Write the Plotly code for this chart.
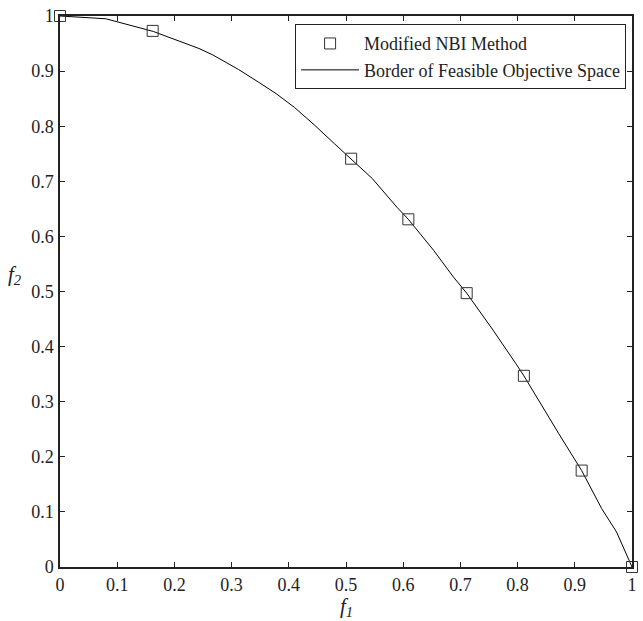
import plotly.graph_objects as go

# Border of feasible objective space (curve)
curve_f1 = [0, 0.08, 0.163, 0.243, 0.266, 0.312, 0.347, 0.378, 0.41, 0.445, 0.48, 0.509,
            0.546, 0.589, 0.609, 0.653, 0.688, 0.711, 0.757, 0.797, 0.811, 0.872, 0.912,
            0.947, 0.973, 1.0]
curve_f2 = [1.0, 0.995, 0.972, 0.941, 0.930, 0.903, 0.880, 0.859, 0.834, 0.802, 0.768, 0.741,
            0.705, 0.653, 0.631, 0.575, 0.526, 0.497, 0.430, 0.369, 0.347, 0.242, 0.175,
            0.106, 0.0635, 0.0]

# Modified NBI method points
nbi_f1 = [0.0, 0.162, 0.509, 0.609, 0.711, 0.811, 0.912, 1.0]
nbi_f2 = [1.0, 0.973, 0.741, 0.631, 0.497, 0.347, 0.175, 0.0]

tick_vals = [0, 0.1, 0.2, 0.3, 0.4, 0.5, 0.6, 0.7, 0.8, 0.9, 1]
tick_text = ["0", "0.1", "0.2", "0.3", "0.4", "0.5", "0.6", "0.7", "0.8", "0.9", "1"]

FONT = "Liberation Serif, Times New Roman, serif"

fig = go.Figure()
fig.add_trace(go.Scatter(
    x=curve_f1, y=curve_f2, mode="lines", name="Border of Feasible Objective Space",
    line=dict(color="black", width=1)))
fig.add_trace(go.Scatter(
    x=nbi_f1, y=nbi_f2, mode="markers", name="Modified NBI Method",
    marker=dict(symbol="square-open", size=11, color="#333333", line=dict(width=1, color="#333333")),
    cliponaxis=False))

axis_common = dict(
    range=[0, 1], tickvals=tick_vals, ticktext=tick_text,
    showgrid=False, zeroline=False, showline=True, linecolor="#222222", linewidth=1.5,
    mirror="ticks", ticks="inside", ticklen=5, tickcolor="#222222", tickwidth=1,
    tickfont=dict(family=FONT, size=18, color="#222222"),
)

fig.update_layout(
    width=643, height=621,
    margin=dict(l=60, r=6, t=16, b=54),
    paper_bgcolor="white", plot_bgcolor="white",
    font=dict(family=FONT, color="#222222"),
    xaxis=dict(**axis_common, ticklabelstandoff=1),
    yaxis=dict(**axis_common, ticklabelstandoff=1),
    showlegend=True,
    legend=dict(
        x=0.411, y=0.985, xanchor="left", yanchor="top",
        bgcolor="white", bordercolor="#222222", borderwidth=1,
        font=dict(family=FONT, size=18, color="#222222"),
        traceorder="reversed", tracegroupgap=0, itemwidth=58,
    ),
    annotations=[
        dict(text="<i>f</i><sub><i>1</i></sub>", x=0.5, y=-0.072, xref="paper", yref="paper",
             xanchor="center", yanchor="middle", showarrow=False,
             font=dict(family=FONT, size=21, color="#222222")),
        dict(text="<i>f</i><sub><i>2</i></sub>", x=-0.078, y=0.53, xref="paper", yref="paper",
             xanchor="center", yanchor="middle", showarrow=False,
             font=dict(family=FONT, size=21, color="#222222")),
    ],
)

fig.write_html("out.html")
